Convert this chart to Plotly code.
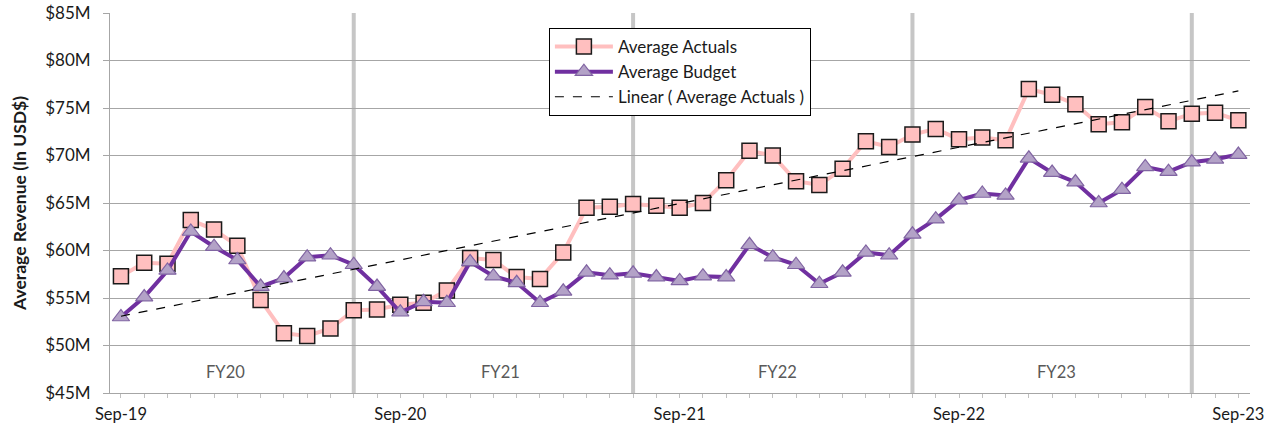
import numpy as np
import plotly.graph_objects as go

months = list(range(49))  # Sep-19 .. Sep-23, monthly
actuals = [57.3, 58.7, 58.6, 63.2, 62.2, 60.5, 54.8, 51.3, 51.0, 51.8, 53.7,
           53.8, 54.3, 54.5, 55.8, 59.2, 59.0, 57.2, 57.0, 59.8, 64.5, 64.6, 64.9, 64.7,
           64.5, 65.0, 67.4, 70.5, 70.0, 67.3, 66.9, 68.6, 71.5, 70.9, 72.2, 72.8, 71.7,
           71.9, 71.6, 77.0, 76.4, 75.4, 73.3, 73.5, 75.1, 73.6, 74.4, 74.5, 73.7]
budget = [53.0, 55.1, 57.9, 62.0, 60.4, 59.0, 56.2, 57.1, 59.3, 59.5, 58.5,
          56.2, 53.5, 54.6, 54.5, 58.8, 57.3, 56.6, 54.5, 55.7, 57.7, 57.4, 57.6, 57.2,
          56.8, 57.3, 57.2, 60.6, 59.3, 58.5, 56.5, 57.7, 59.8, 59.5, 61.7, 63.3, 65.3,
          66.0, 65.8, 69.7, 68.2, 67.2, 65.0, 66.4, 68.8, 68.3, 69.3, 69.6, 70.1]
tick_pos = [0, 12, 24, 36, 48]
tick_text = ["Sep-19", "Sep-20", "Sep-21", "Sep-22", "Sep-23"]
fy_labels = ["FY20", "FY21", "FY22", "FY23"]
fy_centers = [4.5, 16.3, 28.2, 40.2]
fy_breaks = [10, 22, 34, 46]

slope, intercept = np.polyfit(months, actuals, 1)
trend = [slope * m + intercept for m in months]

FONT = "Lato"
fig = go.Figure()
fig.add_trace(go.Scatter(
    x=months, y=actuals, name="Average Actuals", mode="lines+markers", legendgroup="a",
    line=dict(color="#ffbfbf", width=4),
    marker=dict(symbol="square", size=15, color="#ffbfbf", line=dict(color="#1a1a1a", width=1.5))))
fig.add_trace(go.Scatter(
    x=months, y=budget, name="Average Budget", mode="lines+markers", legendgroup="b",
    line=dict(color="#7030a0", width=4),
    marker=dict(symbol="triangle-up", size=15, color="#b3a2c7", line=dict(color="#8064a2", width=1.2))))
fig.add_trace(go.Scatter(
    x=months, y=trend, name="Linear ( Average Actuals )", mode="lines", legendgroup="c",
    line=dict(color="black", width=1.2, dash="dash")))

for b in fy_breaks:
    fig.add_shape(type="line", x0=b, x1=b, xref="x", y0=0, y1=1, yref="paper",
                  line=dict(color="#c6c6c6", width=4), layer="between")
for lab, c in zip(fy_labels, fy_centers):
    fig.add_annotation(x=c, y=47.2, xref="x", yref="y", text=lab, showarrow=False,
                       font=dict(family=FONT, size=16.5, color="#595959"))

fig.update_layout(
    width=1277, height=434,
    margin=dict(l=110, r=27, t=13, b=41),
    paper_bgcolor="white", plot_bgcolor="white",
    font=dict(family=FONT, size=16, color="#1a1a1a"),
    showlegend=True,
    legend=dict(x=0.385, y=0.9605, xanchor="left", yanchor="top",
                bgcolor="white", bordercolor="black", borderwidth=1,
                font=dict(family=FONT, size=17, color="#1a1a1a"),
                tracegroupgap=0, itemwidth=58),
)
fig.update_xaxes(
    range=[-0.47, 48.5], tickvals=tick_pos, ticktext=tick_text, automargin=False,
    showgrid=False, zeroline=False, showline=True, linecolor="#a6a6a6", linewidth=1,
    ticks="outside", ticklen=4, tickcolor="#c0c0c0", ticklabelstandoff=2,
    minor=dict(dtick=1, tick0=0, ticks="outside", ticklen=4, tickcolor="#c0c0c0", showgrid=False),
    tickfont=dict(family=FONT, size=16.5, color="#1a1a1a"))
fig.update_yaxes(
    range=[45, 85], dtick=5, tickprefix="$", ticksuffix="M", automargin=False,
    showgrid=True, gridcolor="#a6a6a6", gridwidth=1, zeroline=False,
    showline=True, linecolor="#a6a6a6", linewidth=1,
    ticks="outside", ticklen=6, tickcolor="#a6a6a6", ticklabelstandoff=9,
    tickfont=dict(family=FONT, size=17, color="#1a1a1a"),
    title=dict(text="<b>Average Revenue (In USD$)</b>", font=dict(family=FONT, size=17.5, color="#1a1a1a"), standoff=14))

fig.write_html("out.html", config={"displayModeBar": False},
               post_script="document.body.style.margin='0';")
